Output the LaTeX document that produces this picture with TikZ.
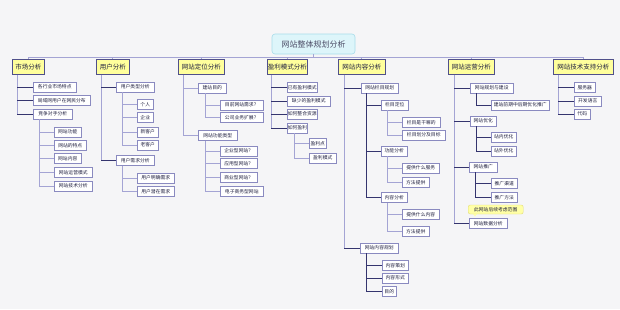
\documentclass[tikz,border=0pt]{standalone}
\usepackage{fontspec}
\newfontfamily\cjk{Noto Sans CJK SC}
\usetikzlibrary{shadows}
\definecolor{bg}{HTML}{F5F5F7}
\definecolor{subB}{HTML}{8A8AC0}
\definecolor{shd}{HTML}{2A2A60}
\definecolor{mainF}{HTML}{FFFF9C}
\definecolor{mainB}{HTML}{50508A}
\definecolor{titF}{HTML}{DDF5FA}
\definecolor{titB}{HTML}{A8DCEA}
\definecolor{lnL}{HTML}{A4A4D4}
\definecolor{lnD}{HTML}{34346E}
\definecolor{txt}{HTML}{202040}
\definecolor{callF}{HTML}{FFFFA6}
\definecolor{callB}{HTML}{E2DC78}
\tikzset{
  sub/.style={draw=subB, fill=white, line width=0.5pt, text=txt,
    font=\cjk\fontsize{4.8}{5}\selectfont, minimum height=10pt, inner xsep=0.5pt, inner ysep=0pt,
    anchor=west, drop shadow={shadow xshift=0.7pt, shadow yshift=-0.7pt, fill=shd, opacity=1}},
  mainbox/.style={draw=mainB, fill=mainF, line width=0.5pt, text=txt,
    font=\cjk\fontsize{6.5}{7}\selectfont, minimum height=15pt, inner xsep=0.5pt, inner ysep=0pt,
    anchor=west, drop shadow={shadow xshift=0.8pt, shadow yshift=-0.8pt, fill=shd, opacity=1}},
  titlebox/.style={draw=titB, fill=titF, line width=0.6pt, rounded corners=3pt, text=txt!80,
    font=\cjk\fontsize{8}{9}\selectfont, minimum width=83pt, minimum height=20pt, inner sep=0pt},
  callbox/.style={draw=callB, fill=callF, line width=0.4pt, rounded corners=2pt, text=txt,
    font=\cjk\fontsize{4.8}{5}\selectfont, minimum width=55pt, minimum height=9pt, inner sep=0pt, anchor=west},
  lt/.style={draw=lnL, line width=0.6pt},
  dk/.style={draw=lnD, line width=0.9pt},
}
\begin{document}
\begin{tikzpicture}[x=1pt,y=-1pt]
\useasboundingbox (0,0) rectangle (620,309);
\fill[bg] (0,0) rectangle (620,309);

% title
\node[titlebox] (title) at (313.5,44) {网站整体规划分析};
\coordinate (bus) at (0,57);

% main boxes
\node[mainbox, minimum width=32pt] (m0) at (12,67) {市场分析};
\node[mainbox, minimum width=33pt] (u0) at (96,67) {用户分析};
\node[mainbox, minimum width=46pt] (d0) at (178,67) {网站定位分析};
\node[mainbox, minimum width=36pt] (p0) at (267,67) {盈利模式分析};
\node[mainbox, minimum width=47pt] (c0) at (338,67) {网站内容分析};
\node[mainbox, minimum width=46pt] (o0) at (448,67) {网站运营分析};
\node[mainbox, minimum width=60pt] (t0) at (553,67) {网站技术支持分析};

\draw[lt] (title.south) -- (title.south |- bus);
\draw[lt] (m0.north |- bus) -- (t0.north |- bus);
\foreach \n in {m0,u0,d0,p0,c0,o0,t0} \draw[lt] (\n.north |- bus) -- (\n.north);

% 市场分析
\node[sub, minimum width=43pt] (m1) at (33,87) {各行业市场特点};
\node[sub, minimum width=57pt] (m2) at (33,100.5) {局域网用户在网民分布};
\node[sub, minimum width=39pt] (m3) at (33,114) {竞争对手分析};
\node[sub, minimum width=27pt] (m31) at (54,132) {网站功能};
\node[sub, minimum width=32pt] (m32) at (54,145.5) {网站的特点};
\node[sub, minimum width=27pt] (m33) at (54,158.5) {网站内容};
\node[sub, minimum width=38pt] (m34) at (54,172.5) {网站运营模式};
\node[sub, minimum width=38pt] (m35) at (54,186) {网站技术分析};

% 用户分析
\node[sub, minimum width=38pt] (u1) at (116,87) {用户类型分析};
\node[sub, minimum width=16pt] (u11) at (137,104.5) {个人};
\node[sub, minimum width=16pt] (u12) at (137,117.5) {企业};
\node[sub, minimum width=21pt] (u13) at (137,132) {新客户};
\node[sub, minimum width=21pt] (u14) at (137,145) {老客户};
\node[sub, minimum width=38pt] (u2) at (116,160.5) {用户需求分析};
\node[sub, minimum width=37pt] (u21) at (137,178) {用户明确需求};
\node[sub, minimum width=37pt] (u22) at (137,191.5) {用户潜在需求};

% 网站定位分析
\node[sub, minimum width=28pt] (d1) at (198,88) {建站目的};
\node[sub, minimum width=43pt] (d11) at (220,105) {目前网站需求？};
\node[sub, minimum width=43pt] (d12) at (220,117.5) {公司业务扩展？};
\node[sub, minimum width=39pt] (d2) at (198,135.5) {网站功能类型};
\node[sub, minimum width=37pt] (d21) at (220,151) {企业型网站？};
\node[sub, minimum width=37pt] (d22) at (220,163.5) {应用型网站？};
\node[sub, minimum width=37pt] (d23) at (220,177.5) {商业型网站？};
\node[sub, minimum width=43pt] (d24) at (220,191.5) {电子商务型网站};

% 盈利模式分析
\node[sub, minimum width=30pt] (p1) at (287,87.5) {已有盈利模式};
\node[sub, minimum width=43pt] (p2) at (287,101) {缺少的盈利模式};
\node[sub, minimum width=30pt] (p3) at (287,114) {如何整合资源};
\node[sub, minimum width=20pt] (p4) at (287,128) {如何盈利};
\node[sub, minimum width=17pt] (p41) at (309,143.5) {盈利点};
\node[sub, minimum width=27pt] (p42) at (309,158) {盈利模式};

% 网站内容分析
\node[sub, minimum width=37pt] (c1) at (361,88) {网站栏目规划};
\node[sub, minimum width=27pt] (c11) at (381,105) {栏目定位};
\node[sub, minimum width=38pt] (c111) at (402,122.5) {栏目是干嘛的};
\node[sub, minimum width=43pt] (c112) at (402,135) {栏目划分及目标};
\node[sub, minimum width=26pt] (c12) at (381,151) {功能分析};
\node[sub, minimum width=37pt] (c121) at (402,168) {提供什么服务};
\node[sub, minimum width=27pt] (c122) at (402,182.5) {方法提供};
\node[sub, minimum width=26pt] (c13) at (381,197.5) {内容分析};
\node[sub, minimum width=37pt] (c131) at (402,214.5) {提供什么内容};
\node[sub, minimum width=27pt] (c132) at (402,231.5) {方法提供};
\node[sub, minimum width=38pt] (c2) at (360,248) {网站内容规划};
\node[sub, minimum width=26pt] (c21) at (382,265.5) {内容策划};
\node[sub, minimum width=26pt] (c22) at (382,278) {内容形式};
\node[sub, minimum width=14pt] (c23) at (382,291.5) {目的};

% 网站运营分析
\node[sub, minimum width=43pt] (o1) at (470,88) {网站规划与建设};
\node[sub, minimum width=58pt] (o11) at (491,105) {建站前期中后期优化推广};
\node[sub, minimum width=26pt] (o2) at (470,121) {网站优化};
\node[sub, minimum width=25pt] (o21) at (491,137) {站内优化};
\node[sub, minimum width=25pt] (o22) at (491,151) {站外优化};
\node[sub, minimum width=28pt] (o3) at (469,167) {网站推广};
\node[sub, minimum width=26pt] (o31) at (491,183.5) {推广渠道};
\node[sub, minimum width=26pt] (o32) at (491,197.5) {推广方法};
\node[callbox] (cb) at (468,209.5) {此网站后续考虑范围};
\fill[callF] ([xshift=5pt,yshift=0.3pt]cb.south west) -- ++(2,2.5) -- ++(2,-2.5) -- cycle;
\node[sub, minimum width=38pt] (o4) at (469,223.5) {网站数据分析};

% 网站技术支持分析
\node[sub, minimum width=21pt] (t1) at (574,87.5) {服务器};
\node[sub, minimum width=27pt] (t2) at (574,101) {开发语言};
\node[sub, minimum width=16pt] (t3) at (574,114) {代码};

% trunks, level 1
\coordinate (mT) at ([xshift=5pt]m0.south west);
\coordinate (uT) at ([xshift=5pt]u0.south west);
\coordinate (dT) at ([xshift=5pt]d0.south west);
\coordinate (pT) at ([xshift=4pt]p0.south west);
\coordinate (cT) at ([xshift=6pt]c0.south west);
\coordinate (oT) at ([xshift=6pt]o0.south west);
\coordinate (tT) at ([xshift=5pt]t0.south west);
\draw[lt] (mT) -- (mT |- m3.west);
\draw[lt] (uT) -- (uT |- u2.west);
\draw[lt] (dT) -- (dT |- d2.west);
\draw[lt] (pT) -- (pT |- p4.west);
\draw[lt] (cT) -- (cT |- c2.west);
\draw[lt] (oT) -- (oT |- o4.west);
\draw[lt] (tT) -- (tT |- t3.west);
\foreach \c in {m1,m2,m3} \draw[dk] (mT |- \c.west) -- (\c.west);
\foreach \c in {u1,u2} \draw[dk] (uT |- \c.west) -- (\c.west);
\foreach \c in {d1,d2} \draw[lt] (dT |- \c.west) -- (\c.west);
\foreach \c in {p1,p2,p3,p4} \draw[dk] (pT |- \c.west) -- (\c.west);
\foreach \c in {c1,c2} \draw[dk] (cT |- \c.west) -- (\c.west);
\foreach \c in {o1,o2,o3,o4} \draw[dk] (oT |- \c.west) -- (\c.west);
\foreach \c in {t1,t2,t3} \draw[dk] (tT |- \c.west) -- (\c.west);

% deeper levels
\foreach \c in {m31,m32,m33,m34,m35} \draw[lt] ([xshift=6pt]m3.south west) |- (\c.west);
\foreach \c in {u11,u12,u13,u14} \draw[lt] ([xshift=6pt]u1.south west) |- (\c.west);
\foreach \c in {u21,u22} \draw[lt] ([xshift=6pt]u2.south west) |- (\c.west);
\foreach \c in {d11,d12} \draw[lt] ([xshift=7pt]d1.south west) |- (\c.west);
\foreach \c in {d21,d22,d23,d24} \draw[lt] ([xshift=7pt]d2.south west) |- (\c.west);
\foreach \c in {p41,p42} \draw[lt] ([xshift=7pt]p4.south west) |- (\c.west);
\foreach \c in {c11,c12,c13} \draw[dk] ([xshift=5pt]c1.south west) |- (\c.west);
\foreach \c in {c111,c112} \draw[lt] ([xshift=6pt]c11.south west) |- (\c.west);
\foreach \c in {c121,c122} \draw[lt] ([xshift=6pt]c12.south west) |- (\c.west);
\foreach \c in {c131,c132} \draw[lt] ([xshift=6pt]c13.south west) |- (\c.west);
\foreach \c in {c21,c22,c23} \draw[dk] ([xshift=6pt]c2.south west) |- (\c.west);
\foreach \c in {o11} \draw[dk] ([xshift=6pt]o1.south west) |- (\c.west);
\foreach \c in {o21,o22} \draw[dk] ([xshift=6pt]o2.south west) |- (\c.west);
\foreach \c in {o31,o32} \draw[dk] ([xshift=6pt]o3.south west) |- (\c.west);
\end{tikzpicture}
\end{document}
